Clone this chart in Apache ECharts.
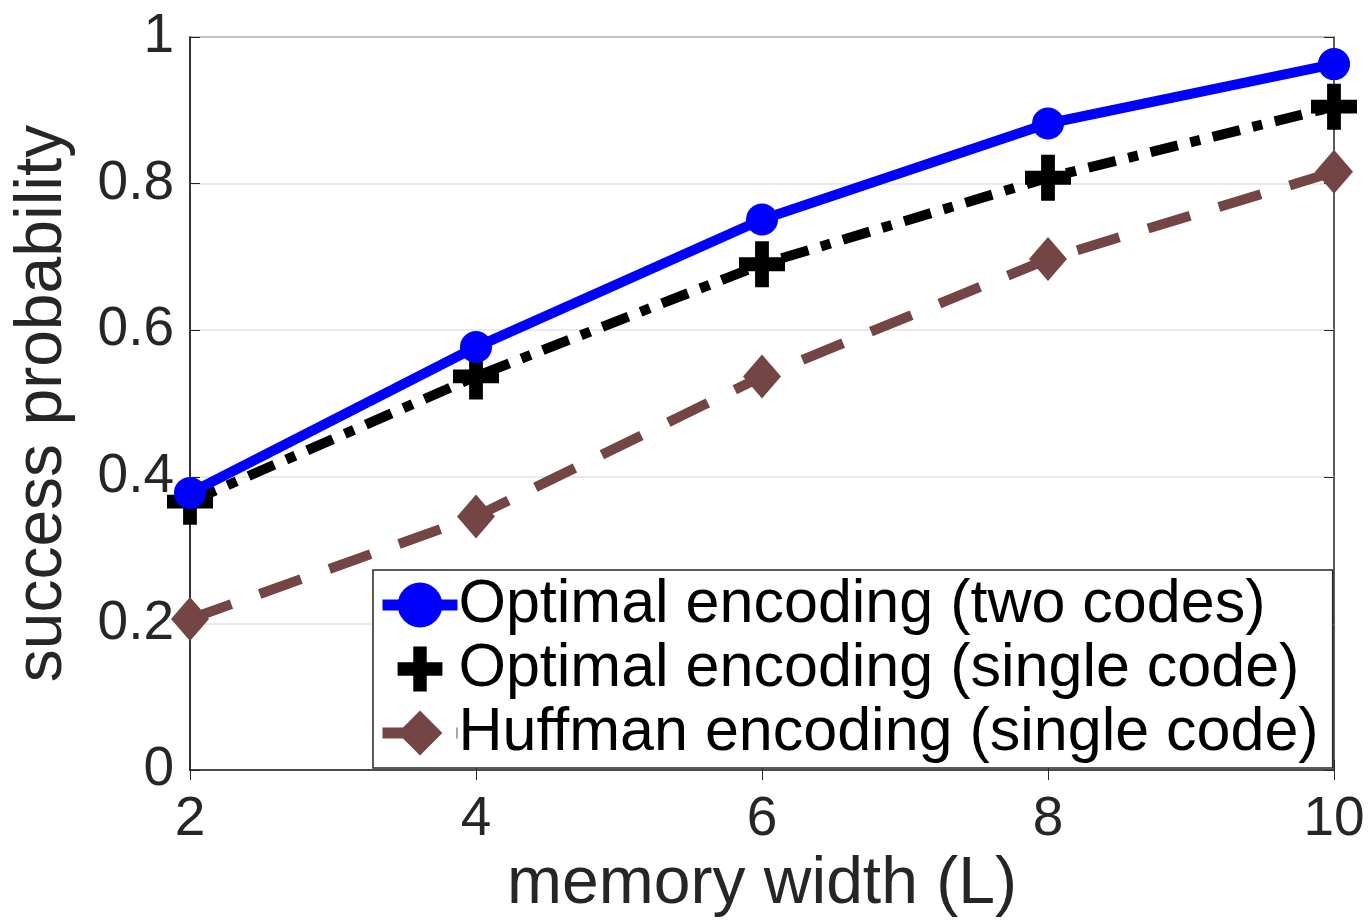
<!DOCTYPE html>
<html>
<head>
<meta charset="utf-8">
<script src="https://cdn.jsdelivr.net/npm/echarts@6/dist/echarts.min.js"></script>
<style>
  html, body { margin: 0; padding: 0; background: #fff; }
  #chart { width: 1370px; height: 923px; }
</style>
</head>
<body>
<div id="chart"></div>
<script>
const widths = [2, 4, 6, 8, 10];
const twoCodes = [0.378, 0.577, 0.751, 0.882, 0.963];
const singleCode = [0.366, 0.537, 0.69, 0.808, 0.905];
const huffman = [0.206, 0.346, 0.537, 0.697, 0.816];
const yTicks = [0, 0.2, 0.4, 0.6, 0.8, 1];

const font = "'Liberation Sans', Arial, Helvetica, sans-serif";
// plus marker, arms ~30% of the size
const plusPath = "path://M7,0H13V7H20V13H13V20H7V13H0V7H7Z";

const pairs = (ys) => widths.map((x, i) => [x, ys[i]]);

const mychart = echarts.init(document.getElementById("chart"));
const option = {
  animation: false,
  textStyle: { fontFamily: font },
  grid: {
    left: 190,
    right: 36,
    top: 37,
    bottom: 150,
    show: true,
    borderColor: "#262626",
    borderWidth: 1.5,
  },
  legend: {
    orient: "vertical",
    left: 373,
    top: 570,
    padding: [3, 14, 3, 4],
    backgroundColor: "#fff",
    borderColor: "#262626",
    borderWidth: 1.5,
    borderRadius: 0,
    itemWidth: 75,
    itemHeight: 56,
    itemGap: 0,
    lineStyle: { width: 11 },
    textStyle: { fontSize: 61, lineHeight: 64, color: "#000", fontFamily: font, padding: [0, 0, 0, -4] },
    data: [
      { name: "Optimal encoding (two codes)" },
      { name: "Optimal encoding (single code)", lineStyle: { width: 0, opacity: 0 } },
      { name: "Huffman encoding (single code)" },
    ],
  },
  xAxis: [
    {
      type: "value",
      min: 2,
      max: 10,
      interval: 2,
      name: "memory width (L)",
      nameLocation: "middle",
      nameGap: 82,
      nameTextStyle: { fontSize: 66, color: "#262626", fontFamily: font },
      axisLine: { show: true, lineStyle: { color: "#262626", width: 1.5 } },
      axisTick: { show: true, inside: true, length: 10, lineStyle: { color: "#262626" } },
      axisLabel: { fontSize: 55, color: "#262626", margin: 22 },
      splitLine: { show: false },
    },
    {
      type: "value",
      position: "top",
      min: 2,
      max: 10,
      interval: 2,
      axisLine: { show: false },
      axisTick: { show: true, inside: true, length: 10, lineStyle: { color: "#262626" } },
      axisLabel: { show: false },
      splitLine: { show: false },
    },
  ],
  yAxis: [
    {
      type: "value",
      min: 0,
      max: 1,
      interval: 0.2,
      name: "success probability",
      nameLocation: "middle",
      nameGap: 114,
      nameTextStyle: { fontSize: 66, color: "#262626", fontFamily: font },
      axisLine: { show: true, lineStyle: { color: "#262626", width: 1.5 } },
      axisTick: { show: true, inside: true, length: 10, lineStyle: { color: "#262626" } },
      axisLabel: {
        fontSize: 55,
        color: "#262626",
        margin: 16,
        formatter: (v) => String(yTicks.find((t) => Math.abs(t - v) < 1e-6) ?? v),
      },
      splitLine: { show: true, lineStyle: { color: "#e3e3e3", width: 1.5 } },
    },
    {
      type: "value",
      position: "right",
      min: 0,
      max: 1,
      interval: 0.2,
      axisLine: { show: false },
      axisTick: { show: true, inside: true, length: 10, lineStyle: { color: "#262626" } },
      axisLabel: { show: false },
      splitLine: { show: false },
    },
  ],
  series: [
    {
      name: "Huffman encoding (single code)",
      type: "line",
      data: pairs(huffman),
      symbol: "diamond",
      symbolSize: [38, 44],
      itemStyle: { color: "#734545" },
      lineStyle: { color: "#734545", width: 10, type: [44, 30] },
      z: 2,
    },
    {
      name: "Optimal encoding (single code)",
      type: "line",
      data: pairs(singleCode),
      symbol: plusPath,
      symbolSize: 46,
      itemStyle: { color: "#000" },
      lineStyle: { color: "#000", width: 10, type: [28, 13, 10, 13] },
      z: 3,
    },
    {
      name: "Optimal encoding (two codes)",
      type: "line",
      data: pairs(twoCodes),
      symbol: "circle",
      symbolSize: 32,
      itemStyle: { color: "#0000ff" },
      lineStyle: { color: "#0000ff", width: 10 },
      z: 4,
    },
  ],
};
mychart.setOption(option);
</script>
</body>
</html>
